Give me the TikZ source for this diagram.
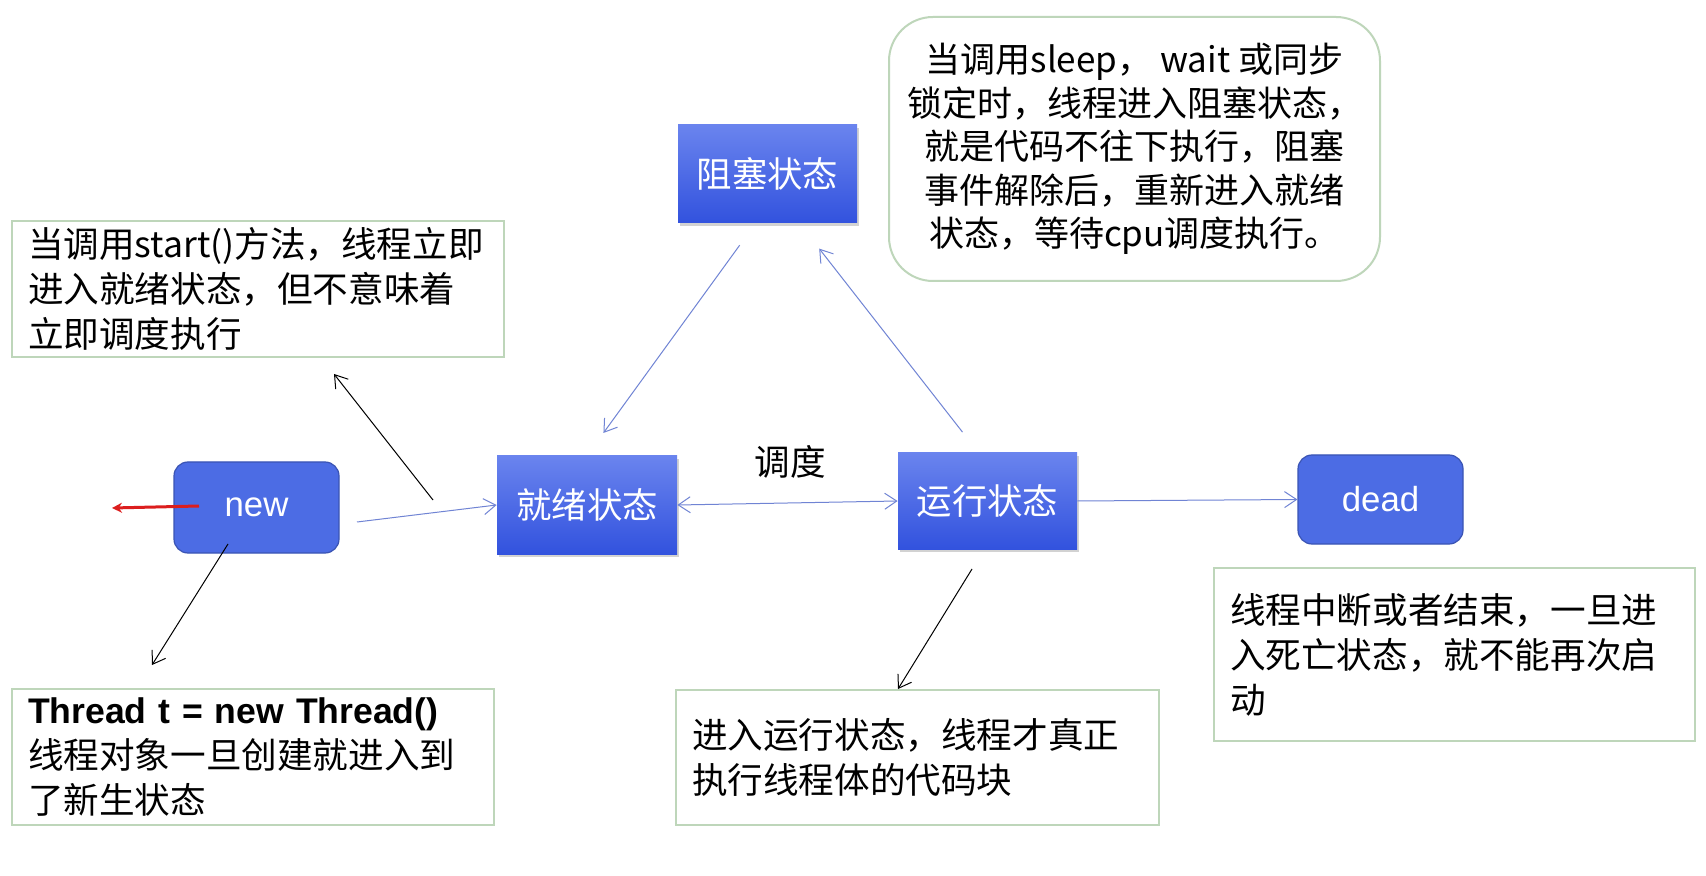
\documentclass[tikz,border=0pt]{standalone}
\usepackage{fontspec}
\setmainfont{Noto Sans CJK SC}
\newfontfamily\latinfont{Liberation Sans}
\usetikzlibrary{arrows.meta, shadows}

\definecolor{statetop}{RGB}{106,132,238}
\definecolor{statebottom}{RGB}{50,82,222}
\definecolor{roundfill}{RGB}{76,108,228}
\definecolor{rounddraw}{RGB}{58,84,180}
\definecolor{noteline}{RGB}{190,214,186}
\definecolor{flowline}{RGB}{112,132,212}
\definecolor{penred}{RGB}{220,30,30}

\begin{document}
\begin{tikzpicture}[x=0.5pt, y=-0.5pt,
    statebox/.style={rectangle, top color=statetop, bottom color=statebottom, text=white, font=\fontsize{17.7pt}{20pt}\selectfont, drop shadow={opacity=0.35, shadow xshift=1pt, shadow yshift=-1.5pt}},
    roundstate/.style={rounded corners=7pt, fill=roundfill, draw=rounddraw, line width=0.6pt, text=white, font=\latinfont\fontsize{17.4pt}{20pt}\selectfont},
    notebox/.style={draw=noteline, line width=1pt, align=left, inner xsep=8pt, font=\fontsize{17.8pt}{22.5pt}\selectfont},
    flow/.style={draw=flowline, line width=0.5pt, -{Straight Barb[length=6pt, width=8pt]}},
    pointer/.style={black, line width=0.5pt, -{Straight Barb[length=6pt, width=8pt]}}
]
\fill[white] (0,0) rectangle (1706,876);
\useasboundingbox (0,0) rectangle (1706,876);

% states
\node[roundstate, minimum width=82.5pt, minimum height=45.5pt] (new) at (256.5,507.5) {new};
\node[statebox, minimum width=90pt, minimum height=49pt] (ready) at (587,505) {就绪状态};
\node[statebox, minimum width=89.5pt, minimum height=49pt] (blocked) at (767.5,174) {阻塞状态};
\node[statebox, minimum width=89.5pt, minimum height=48pt] (running) at (987.5,501) {运行状态};
\node[roundstate, minimum width=82.5pt, minimum height=44.5pt] (dead) at (1380.5,499.5) {dead};
\node[font=\fontsize{17.8pt}{20pt}\selectfont] (dispatch) at (790,462) {调度};

% notes
\node[notebox, text width=230pt, minimum height=68pt] (startnote) at (258,289)
    {当调用start()方法，线程立即\\进入就绪状态，但不意味着\\立即调度执行};
\node[notebox, rounded corners=22pt, align=center, minimum width=245.5pt, minimum height=132pt,
    font=\fontsize{17.5pt}{21.8pt}\selectfont] (blocknote) at (1134.5,149)
    {当调用sleep， wait 或同步\\锁定时，线程进入阻塞状态，\\就是代码不往下执行，阻塞\\事件解除后，重新进入就绪\\状态，等待cpu调度执行。};
\node[notebox, text width=225pt, minimum height=68pt] (newnote) at (253,757)
    {{\latinfont\bfseries Thread t = new Thread()}\\线程对象一旦创建就进入到\\了新生状态};
\node[notebox, text width=225.5pt, minimum height=67.5pt] (runnote) at (917.5,757.5)
    {进入运行状态，线程才真正\\执行线程体的代码块};
\node[notebox, text width=224.5pt, minimum height=86.5pt] (deadnote) at (1454.5,654.5)
    {线程中断或者结束，一旦进\\入死亡状态，就不能再次启\\动};

% transitions
\coordinate (newout) at (357,522);
\draw[flow] (newout) -- (ready.west);
\draw[flow, shorten <=13.5pt, shorten >=14pt] ([xshift=-6pt]blocked.south) -- (ready.north);
\draw[flow, shorten <=13pt, shorten >=16pt] ([xshift=-4.5pt]running.north) -- ([xshift=16pt]blocked.south);
\draw[flow, {Straight Barb[length=6pt, width=8pt]}-{Straight Barb[length=6pt, width=8pt]}] (ready.east) -- (running.west);
\draw[flow] (running.east) -- (dead.west);

% pointers to the notes
\coordinate (startfrom) at (433,500);
\coordinate (startto) at (334,374);
\draw[pointer] (startfrom) -- (startto);
\coordinate (newfrom) at (228,544);
\coordinate (newto) at (152,665);
\draw[pointer] (newfrom) -- (newto);
\coordinate (runfrom) at (972,569);
\draw[pointer] (runfrom) -- ([xshift=-9.75pt]runnote.north);

% pen stroke
\coordinate (penfrom) at (199,506);
\coordinate (pento) at (112,508);
\draw[penred, line width=1.5pt, -{Stealth[length=5pt, width=5pt]}] (penfrom) -- (pento);
\end{tikzpicture}
\end{document}
